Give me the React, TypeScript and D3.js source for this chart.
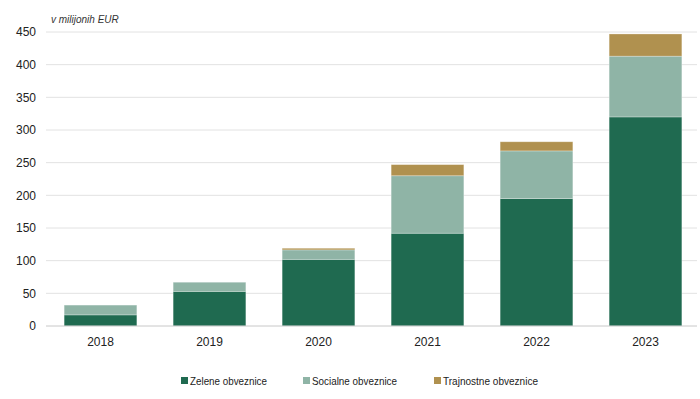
import * as React from "react";
import * as d3 from "d3";

const years = ["2018", "2019", "2020", "2021", "2022", "2023"];
const zelene = [17, 53, 102, 142, 195, 320];
const socialne = [15, 14, 14.5, 88, 73, 93];
const trajnostne = [0, 0, 2.5, 17, 14, 34];

const seriesNames = ["Zelene obveznice", "Socialne obveznice", "Trajnostne obveznice"];
const seriesColors = ["#1f6a50", "#8fb4a6", "#b0914f"];
const yTicks = [0, 50, 100, 150, 200, 250, 300, 350, 400, 450];

const width = 700;
const height = 399;
const margin = { top: 32, right: 0, bottom: 73, left: 46 };

export default function App() {
  const innerH = height - margin.top - margin.bottom;

  const x = React.useMemo(
    () => d3.scaleBand().domain(years).range([margin.left, width]).paddingInner(0.333).paddingOuter(0.1665),
    []
  );
  const y = React.useMemo(
    () => d3.scaleLinear().domain([0, 450]).range([margin.top + innerH, margin.top]),
    [innerH]
  );

  const rows = years.map((yr, i) => ({ year: yr, z: zelene[i], s: socialne[i], t: trajnostne[i] }));
  const stacked = d3.stack<any>().keys(["z", "s", "t"])(rows);

  // legend positions and text widths (narrow font in the original)
  const legendX = [181, 303, 434];
  const legendW = [77, 85, 95];

  return (
    <div style={{ position: "absolute", left: 0, top: 0 }}>
      <svg width={width} height={height} style={{ fontFamily: "'Liberation Sans', Arial, sans-serif" }}>
        <rect width={width} height={height} fill="#fff" />
        {yTicks.map((t) => (
          <g key={t}>
            {t > 0 && (
              <line x1={margin.left} x2={width - 3} y1={y(t)} y2={y(t)} stroke="#e2e2e2" strokeWidth={1} />
            )}
            <text x={36} y={y(t)} dy="0.35em" textAnchor="end" fontSize={12} fill="#222">
              {t}
            </text>
          </g>
        ))}
        <text x={51} y={23} fontSize={10} fontStyle="italic" fill="#333">
          v milijonih EUR
        </text>

        {stacked.map((layer, li) =>
          layer.map((d, i) =>
            d[1] - d[0] > 0 ? (
              <rect
                key={`${li}-${i}`}
                x={x(years[i])}
                width={x.bandwidth()}
                y={y(d[1])}
                height={y(d[0]) - y(d[1])}
                fill={seriesColors[li]}
                stroke="#ffffff"
                strokeOpacity={0.35}
                strokeWidth={0.8}
              />
            ) : null
          )
        )}

        <line x1={margin.left} x2={width - 3} y1={y(0)} y2={y(0)} stroke="#c8c8c8" strokeWidth={1} />

        {years.map((yr) => (
          <text key={yr} x={(x(yr) ?? 0) + x.bandwidth() / 2} y={346} textAnchor="middle" fontSize={12} fill="#222">
            {yr}
          </text>
        ))}

        {seriesNames.map((n, i) => (
          <g key={n} transform={`translate(${legendX[i]},381)`}>
            <rect x={0} y={-4} width={7} height={7} fill={seriesColors[i]} />
            <text
              x={9}
              y={0}
              dy="0.35em"
              fontSize={11.5}
              fill="#222"
              textLength={legendW[i]}
              lengthAdjust="spacingAndGlyphs"
            >
              {n}
            </text>
          </g>
        ))}
      </svg>
    </div>
  );
}
